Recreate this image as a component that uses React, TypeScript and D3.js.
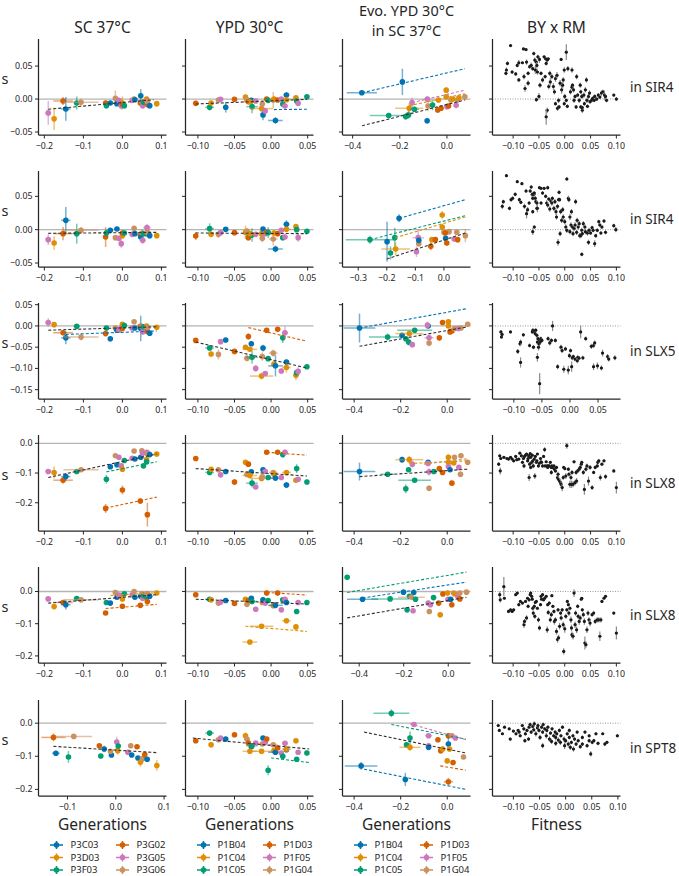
import * as d3 from "d3";

// strain colours (seaborn colorblind)
const palette = ["#0173b2", "#de8f05", "#029e73", "#d55e00", "#cc78bc", "#ca9161"];
const colTitles = [["SC 37°C"], ["YPD 30°C"], ["Evo. YPD 30°C", "in SC 37°C"], ["BY x RM"]];
const colXLabels = ["Generations", "Generations", "Generations", "Fitness"];
const rowLabels = ["in SIR4", "in SIR4", "in SLX5", "in SLX8", "in SLX8", "in SPT8"];
const legendP3 = ["P3C03", "P3D03", "P3F03", "P3G02", "P3G05", "P3G06"];
const legendP1 = ["P1B04", "P1C04", "P1C05", "P1D03", "P1F05", "P1G04"];
const legendSets = [legendP3, legendP1, legendP1];

const yDomains = [[-0.0545, 0.091], [-0.056, 0.088], [-0.172, 0.054], [-0.295, 0.028], [-0.222, 0.076], [-0.22, 0.07]];
const yTicks = [[-0.05, 0, 0.05], [-0.05, 0, 0.05], [-0.15, -0.1, -0.05, 0, 0.05], [-0.2, -0.1, 0], [-0.2, -0.1, 0], [-0.2, -0.1, 0]];
const yFormats = [".2f", ".2f", ".2f", ".1f", ".1f", ".1f"];
const xFormats = [".1f", ".2f", ".1f", ".2f"];

// [row][col]
const xDomains = [
  [[-0.215, 0.113], [-0.117, 0.058], [-0.443, 0.1], [-0.14, 0.108]],
  [[-0.215, 0.113], [-0.117, 0.058], [-0.355, 0.093], [-0.14, 0.108]],
  [[-0.215, 0.113], [-0.117, 0.058], [-0.45, 0.1], [-0.138, 0.09]],
  [[-0.215, 0.113], [-0.117, 0.058], [-0.45, 0.1], [-0.14, 0.108]],
  [[-0.215, 0.113], [-0.117, 0.058], [-0.475, 0.1], [-0.14, 0.108]],
  [[-0.16, 0.105], [-0.117, 0.058], [-0.45, 0.1], [-0.14, 0.105]],
];
const tC1 = [-0.2, -0.1, 0, 0.1], tC2 = [-0.1, -0.05, 0, 0.05], tC3 = [-0.4, -0.2, 0], tC4 = [-0.1, -0.05, 0, 0.05, 0.1];
const xTicks = [
  [tC1, tC2, tC3, tC4],
  [tC1, tC2, [-0.3, -0.2, -0.1, 0], tC4],
  [tC1, tC2, tC3, [-0.1, -0.05, 0, 0.05]],
  [tC1, tC2, tC3, tC4],
  [tC1, tC2, tC3, tC4],
  [[-0.1, 0, 0.1], tC2, tC3, tC4],
];

// SC 37°C lineages: [colour, x, xerr]
const linC1 = [
  [4, -0.19, 0.008], [1, -0.175, 0.005], [3, -0.152, 0.025], [0, -0.145, 0.012], [2, -0.117, 0.008], [5, -0.106, 0.045],
  [3, -0.043, 0.005], [2, -0.041, 0.004], [0, -0.031, 0.004], [5, -0.018, 0.004], [0, -0.014, 0.004], [4, -0.009, 0.006],
  [4, -0.003, 0.004], [1, 0.0, 0.005], [3, 0.0, 0.004], [2, 0.005, 0.004], [4, 0.025, 0.005], [5, 0.03, 0.004],
  [0, 0.032, 0.004], [3, 0.046, 0.004], [0, 0.047, 0.004], [5, 0.05, 0.004], [4, 0.052, 0.008], [2, 0.054, 0.004],
  [1, 0.062, 0.006], [2, 0.062, 0.004], [4, 0.063, 0.01], [3, 0.064, 0.004], [5, 0.064, 0.004], [0, 0.07, 0.004], [1, 0.088, 0.004],
];
// s and its error per row (rows 1-5)
const sC1 = [
  [[-0.021, .018], [-0.03, .017], [-0.003, .006], [-0.015, .018], [-0.006, .01], [-0.005, .006], [-0.006, .004], [-0.01, .004], [-0.006, .003], [0.001, .012], [-0.007, .003], [-0.002, .004], [-0.01, .006], [-0.006, .01], [-0.008, .004], [-0.01, .004], [-0.002, .004], [0.0, .004], [-0.001, .003], [-0.006, .004], [0.005, .01], [-0.004, .004], [-0.01, .005], [-0.005, .004], [0.0, .004], [-0.005, .004], [-0.003, .005], [-0.008, .006], [-0.004, .004], [-0.01, .004], [-0.007, .004]],
  [[-0.015, .008], [-0.02, .01], [-0.006, .01], [0.014, .02], [-0.006, .015], [-0.001, .005], [-0.011, .015], [-0.005, .005], [-0.001, .003], [-0.012, .004], [0.001, .003], [-0.013, .004], [-0.021, .006], [-0.009, .004], [-0.005, .004], [-0.005, .004], [-0.007, .004], [0.002, .003], [-0.006, .003], [-0.008, .004], [-0.011, .004], [-0.005, .004], [-0.016, .005], [-0.006, .004], [-0.005, .004], [-0.006, .004], [0.003, .005], [-0.005, .004], [-0.004, .004], [-0.009, .004], [-0.009, .004]],
  [[0.008, .01], [0.003, .005], [-0.016, .006], [-0.028, .015], [-0.001, .003], [-0.026, .008], [-0.018, .006], [-0.005, .003], [-0.03, .006], [-0.005, .004], [-0.01, .003], [-0.01, .004], [-0.005, .004], [0.004, .004], [-0.006, .004], [0.001, .003], [-0.005, .004], [0.01, .004], [-0.005, .003], [-0.001, .004], [-0.006, .03], [-0.001, .004], [-0.014, .005], [-0.002, .004], [0.0, .004], [-0.004, .004], [-0.005, .005], [-0.013, .005], [-0.003, .004], [-0.017, .004], [-0.003, .004]],
  [[-0.095, .008], [-0.098, .02], [-0.124, .012], [-0.112, .012], [-0.095, .008], [-0.089, .006], [-0.219, .015], [-0.121, .015], [-0.079, .005], [-0.042, .005], [-0.072, .005], [-0.047, .006], [-0.076, .008], [-0.087, .008], [-0.157, .015], [-0.058, .005], [-0.05, .005], [-0.026, .005], [-0.053, .005], [-0.194, .01], [-0.047, .005], [-0.025, .005], [-0.033, .006], [-0.076, .006], [-0.055, .008], [-0.062, .006], [-0.03, .006], [-0.24, .04], [-0.035, .005], [-0.038, .005], [-0.036, .005]],
  [[-0.023, .006], [-0.047, .008], [-0.034, .005], [-0.041, .015], [-0.022, .006], [-0.026, .004], [-0.067, .006], [-0.034, .004], [-0.036, .004], [-0.003, .006], [-0.018, .004], [-0.011, .004], [-0.013, .004], [-0.023, .005], [-0.046, .005], [-0.007, .004], [-0.01, .004], [0.0, .004], [-0.018, .004], [-0.043, .004], [-0.015, .004], [-0.007, .004], [-0.021, .005], [-0.012, .004], [-0.013, .004], [-0.017, .004], [-0.007, .004], [-0.031, .005], [-0.007, .004], [-0.015, .004], [-0.005, .004]],
];
// SC 37°C in SPT8: [colour, x, s, xerr, serr]
const c1Spt8 = [
  [3, -0.129, -0.043, 0.025, 0.012], [5, -0.087, -0.04, 0.038, 0.004], [0, -0.124, -0.091, 0.008, 0.008], [2, -0.098, -0.102, 0.004, 0.018],
  [3, -0.034, -0.068, 0.004, 0.005], [2, -0.031, -0.099, 0.004, 0.005], [0, -0.024, -0.078, 0.006, 0.01], [0, -0.009, -0.096, 0.004, 0.005],
  [5, -0.011, -0.085, 0.004, 0.005], [1, 0.004, -0.083, 0.005, 0.012], [4, 0.002, -0.057, 0.004, 0.016], [2, 0.005, -0.069, 0.004, 0.008],
  [4, 0.025, -0.088, 0.006, 0.006], [5, 0.031, -0.068, 0.004, 0.004], [0, 0.033, -0.096, 0.004, 0.006], [3, 0.044, -0.071, 0.004, 0.004],
  [0, 0.046, -0.105, 0.005, 0.006], [1, 0.051, -0.118, 0.004, 0.014], [5, 0.055, -0.108, 0.004, 0.006], [3, 0.06, -0.095, 0.004, 0.01],
  [0, 0.065, -0.109, 0.005, 0.006], [1, 0.085, -0.128, 0.004, 0.016],
];

// YPD 30°C lineages: [colour, x, xerr]
const linC2 = [
  [3, -0.103, 0.002], [2, -0.084, 0.006], [1, -0.082, 0.002], [5, -0.072, 0.003], [4, -0.069, 0.002], [0, -0.062, 0.002],
  [3, -0.05, 0.003], [1, -0.035, 0.003], [5, -0.033, 0.004], [3, -0.031, 0.002], [0, -0.027, 0.003], [2, -0.026, 0.008],
  [4, -0.021, 0.003], [1, -0.013, 0.016], [5, -0.012, 0.003], [0, -0.011, 0.003], [4, -0.008, 0.003], [3, -0.006, 0.003],
  [2, -0.004, 0.003], [5, 0.003, 0.006], [1, 0.004, 0.003], [0, 0.006, 0.01], [3, 0.009, 0.003], [4, 0.014, 0.003],
  [2, 0.016, 0.003], [4, 0.019, 0.004], [0, 0.021, 0.004], [1, 0.021, 0.006], [1, 0.034, 0.003], [2, 0.035, 0.003],
  [4, 0.037, 0.003], [2, 0.049, 0.002], [1, -0.029, 0.01],
];
const sC2 = [
  [[-0.0065, .004], [-0.0125, .005], [-0.006, .003], [-0.0015, .003], [-0.0005, .003], [-0.0125, .008], [-0.0005, .003], [0.003, .003], [-0.001, .004], [-0.004, .004], [-0.002, .003], [-0.0115, .01], [-0.003, .004], [-0.0145, .005], [-0.0075, .004], [-0.024, .008], [-0.018, .005], [0.0, .003], [-0.002, .003], [-0.0015, .012], [0.0, .004], [-0.0325, .005], [-0.0015, .003], [0.0, .003], [-0.0075, .005], [-0.0105, .004], [0.006, .004], [-0.001, .003], [0.002, .003], [-0.003, .003], [-0.0065, .004], [0.0035, .002], [-0.004, .004]],
  [[-0.0095, .006], [0.0015, .008], [-0.007, .004], [-0.007, .005], [-0.0045, .004], [0.0005, .003], [-0.0045, .003], [-0.004, .01], [-0.002, .004], [-0.012, .004], [-0.008, .003], [-0.008, .01], [-0.007, .004], [-0.006, .005], [-0.013, .006], [0.001, .003], [-0.006, .004], [-0.0035, .003], [-0.0045, .008], [-0.014, .01], [-0.005, .004], [-0.029, .005], [-0.006, .004], [-0.001, .003], [-0.012, .004], [-0.011, .004], [0.008, .006], [0.0005, .004], [0.0045, .003], [0.0, .003], [-0.012, .006], [-0.0025, .003], [-0.006, .004]],
  [[-0.034, .004], [-0.052, .006], [-0.066, .005], [-0.067, .012], [-0.037, .004], [-0.033, .004], [-0.06, .006], [-0.05, .006], [-0.076, .008], [-0.025, .008], [-0.042, .005], [-0.074, .015], [-0.1, .008], [-0.118, .008], [-0.072, .01], [-0.052, .008], [-0.112, .005], [-0.01, .003], [-0.077, .004], [-0.064, .008], [-0.09, .01], [-0.094, .025], [-0.008, .004], [-0.106, .006], [-0.028, .012], [-0.016, .015], [-0.085, .006], [-0.098, .012], [-0.116, .012], [-0.11, .006], [-0.107, .01], [-0.096, .004], [-0.055, .005]],
  [[-0.051, .005], [-0.098, .006], [-0.087, .006], [-0.089, .008], [-0.106, .008], [-0.095, .005], [-0.13, .01], [-0.064, .008], [-0.105, .008], [-0.07, .008], [-0.096, .006], [-0.134, .015], [-0.147, .008], [-0.118, .008], [-0.113, .01], [-0.089, .005], [-0.095, .008], [-0.03, .004], [-0.115, .008], [-0.098, .006], [-0.104, .008], [-0.117, .008], [-0.03, .004], [-0.115, .008], [-0.038, .01], [-0.03, .01], [-0.14, .01], [-0.098, .008], [-0.124, .006], [-0.085, .015], [-0.121, .006], [-0.13, .008], [-0.108, .006]],
  [[-0.01, .004], [-0.024, .005], [-0.026, .004], [-0.036, .004], [-0.033, .004], [-0.028, .004], [-0.037, .005], [-0.024, .004], [-0.04, .006], [-0.028, .004], [-0.021, .004], [-0.031, .005], [-0.055, .006], [-0.108, .005], [-0.034, .004], [-0.026, .004], [-0.036, .004], [-0.005, .003], [-0.028, .004], [-0.044, .004], [-0.041, .004], [-0.043, .004], [-0.005, .004], [-0.057, .004], [-0.026, .004], [-0.024, .008], [-0.034, .004], [-0.091, .004], [-0.11, .008], [-0.062, .004], [-0.034, .004], [-0.034, .004], [-0.157, .004]],
  [[-0.053, .006], [-0.03, .003], [-0.065, .008], [-0.05, .004], [-0.045, .004], [-0.048, .004], [-0.035, .004], [-0.038, .01], [-0.048, .008], [-0.06, .005], [-0.071, .005], [-0.068, .008], [-0.06, .005], [-0.085, .008], [-0.063, .006], [-0.045, .006], [-0.058, .006], [-0.048, .004], [-0.142, .015], [-0.065, .005], [-0.083, .006], [-0.088, .005], [-0.075, .006], [-0.09, .005], [-0.1, .006], [-0.061, .006], [-0.08, .006], [-0.078, .006], [-0.053, .004], [-0.109, .005], [-0.088, .004], [-0.09, .008], [-0.085, .005]],
];

// Evo. YPD 30°C in SC 37°C, per row: [colour, x, s, xerr, serr]
const c3Rows = [
  [[0, -0.361, 0.0095, 0.064, 0.003], [0, -0.189, 0.026, 0.004, 0.02], [2, -0.247, -0.025, 0.08, 0.004], [2, -0.175, -0.0265, 0.01, 0.005], [2, -0.163, -0.024, 0.005, 0.006], [1, -0.16, -0.014, 0.06, 0.008], [4, -0.148, -0.0055, 0.006, 0.008], [2, -0.138, -0.0155, 0.02, 0.004], [0, -0.084, -0.033, 0.004, 0.004], [4, -0.083, 0.0, 0.015, 0.004], [5, -0.08, -0.0105, 0.006, 0.008], [2, -0.061, -0.009, 0.005, 0.008], [1, -0.036, -0.0015, 0.005, 0.004], [3, -0.039, -0.0165, 0.005, 0.004], [3, -0.025, -0.014, 0.005, 0.004], [1, -0.003, 0.0135, 0.004, 0.004], [1, -0.003, 0.0035, 0.004, 0.004], [4, 0.0, -0.0115, 0.005, 0.004], [3, 0.007, -0.0105, 0.004, 0.004], [5, 0.017, -0.0015, 0.006, 0.006], [1, 0.025, 0.0, 0.005, 0.004], [4, 0.039, -0.0095, 0.005, 0.005], [5, 0.044, -0.0015, 0.005, 0.004], [1, 0.051, 0.002, 0.004, 0.004], [5, 0.076, 0.0035, 0.004, 0.004]],
  [[2, -0.259, -0.015, 0.085, 0.006], [0, -0.199, -0.018, 0.004, 0.03], [2, -0.187, -0.035, 0.006, 0.01], [2, -0.172, -0.012, 0.004, 0.015], [1, -0.169, -0.029, 0.05, 0.01], [0, -0.157, 0.017, 0.006, 0.006], [4, -0.096, -0.033, 0.004, 0.008], [4, -0.09, -0.012, 0.02, 0.012], [5, -0.088, -0.021, 0.005, 0.004], [0, -0.088, -0.016, 0.004, 0.004], [3, -0.046, -0.025, 0.005, 0.006], [1, -0.042, -0.015, 0.01, 0.004], [3, -0.03, -0.015, 0.005, 0.004], [1, -0.006, 0.022, 0.004, 0.006], [1, -0.006, 0.004, 0.004, 0.005], [5, 0.0, -0.004, 0.004, 0.005], [0, 0.006, -0.013, 0.004, 0.004], [3, 0.01, -0.02, 0.005, 0.004], [5, 0.018, -0.003, 0.006, 0.004], [3, 0.005, -0.005, 0.004, 0.004], [4, 0.036, -0.014, 0.004, 0.004], [5, 0.045, -0.004, 0.004, 0.004], [3, 0.048, -0.015, 0.004, 0.004], [5, 0.075, -0.009, 0.004, 0.01]],
  [[0, -0.377, -0.005, 0.068, 0.034], [2, -0.256, -0.026, 0.08, 0.008], [0, -0.194, -0.022, 0.006, 0.005], [2, -0.178, -0.03, 0.006, 0.005], [2, -0.166, -0.038, 0.006, 0.008], [1, -0.163, -0.018, 0.06, 0.006], [4, -0.15, -0.044, 0.005, 0.005], [2, -0.14, -0.01, 0.075, 0.004], [0, -0.082, 0.0, 0.004, 0.004], [4, -0.085, 0.002, 0.004, 0.008], [4, -0.078, -0.028, 0.02, 0.005], [5, -0.078, -0.04, 0.004, 0.008], [3, -0.034, -0.028, 0.005, 0.006], [3, -0.02, 0.008, 0.004, 0.004], [1, 0.005, 0.01, 0.004, 0.006], [1, 0.005, 0.0, 0.004, 0.004], [3, 0.012, -0.014, 0.005, 0.005], [3, 0.02, -0.012, 0.004, 0.004], [5, 0.031, -0.006, 0.005, 0.004], [4, 0.047, -0.006, 0.004, 0.004], [5, 0.059, -0.005, 0.004, 0.004], [5, 0.088, 0.004, 0.004, 0.004]],
  [[0, -0.377, -0.095, 0.068, 0.03], [2, -0.256, -0.104, 0.03, 0.004], [0, -0.194, -0.055, 0.006, 0.01], [1, -0.163, -0.055, 0.06, 0.012], [4, -0.15, -0.07, 0.005, 0.012], [2, -0.166, -0.089, 0.006, 0.008], [2, -0.178, -0.153, 0.006, 0.015], [2, -0.14, -0.124, 0.07, 0.005], [0, -0.082, -0.064, 0.004, 0.008], [4, -0.082, -0.068, 0.004, 0.008], [4, -0.078, -0.096, 0.006, 0.012], [5, -0.078, -0.151, 0.004, 0.01], [2, -0.057, -0.095, 0.004, 0.004], [3, -0.034, -0.085, 0.005, 0.006], [3, -0.02, -0.098, 0.005, 0.006], [1, 0.005, -0.047, 0.004, 0.01], [1, 0.005, -0.064, 0.004, 0.012], [4, 0.005, -0.078, 0.004, 0.004], [0, 0.012, -0.089, 0.004, 0.004], [3, 0.02, -0.134, 0.004, 0.008], [5, 0.031, -0.047, 0.005, 0.004], [1, 0.028, -0.066, 0.005, 0.004], [4, 0.05, -0.081, 0.004, 0.004], [5, 0.059, -0.042, 0.004, 0.004], [5, 0.057, -0.104, 0.004, 0.01], [5, 0.088, -0.064, 0.004, 0.006]],
  [[2, -0.454, 0.044, 0.004, 0.008], [0, -0.385, -0.024, 0.07, 0.004], [2, -0.261, -0.023, 0.085, 0.004], [0, -0.201, -0.002, 0.006, 0.004], [2, -0.174, -0.015, 0.006, 0.004], [0, -0.155, -0.003, 0.004, 0.008], [5, -0.165, -0.018, 0.06, 0.004], [2, -0.147, -0.024, 0.005, 0.004], [2, -0.185, -0.057, 0.005, 0.004], [4, -0.158, -0.06, 0.005, 0.004], [2, -0.066, -0.019, 0.004, 0.004], [4, -0.09, -0.036, 0.01, 0.008], [4, -0.08, -0.041, 0.005, 0.004], [5, -0.085, -0.062, 0.004, 0.004], [1, -0.036, -0.072, 0.006, 0.008], [3, -0.043, -0.036, 0.004, 0.004], [3, -0.024, -0.008, 0.004, 0.004], [1, -0.003, -0.005, 0.004, 0.006], [4, -0.001, -0.024, 0.004, 0.004], [0, 0.011, -0.024, 0.004, 0.004], [3, 0.016, -0.041, 0.004, 0.004], [5, 0.024, -0.005, 0.004, 0.004], [1, 0.03, -0.008, 0.004, 0.004], [4, 0.043, -0.015, 0.004, 0.004], [3, 0.052, -0.023, 0.004, 0.004], [5, 0.052, -0.005, 0.004, 0.004], [5, 0.082, -0.002, 0.004, 0.004]],
  [[0, -0.37, -0.129, 0.07, 0.012], [2, -0.24, 0.03, 0.077, 0.012], [0, -0.18, -0.17, 0.004, 0.02], [4, -0.143, -0.004, 0.004, 0.006], [2, -0.16, -0.045, 0.004, 0.02], [2, -0.175, -0.065, 0.004, 0.006], [1, -0.16, -0.073, 0.045, 0.01], [4, -0.08, -0.038, 0.015, 0.006], [4, -0.08, -0.068, 0.004, 0.004], [0, -0.08, -0.073, 0.004, 0.006], [3, -0.04, -0.05, 0.004, 0.004], [3, -0.028, -0.083, 0.004, 0.008], [1, -0.02, -0.078, 0.006, 0.008], [3, 0.005, -0.038, 0.004, 0.004], [0, 0.005, -0.063, 0.004, 0.02], [1, 0.01, -0.078, 0.004, 0.008], [1, 0.0, -0.114, 0.004, 0.008], [3, 0.005, -0.177, 0.02, 0.012], [5, 0.02, -0.038, 0.004, 0.004], [4, 0.035, -0.045, 0.004, 0.004], [3, 0.025, -0.119, 0.004, 0.006], [5, 0.07, -0.102, 0.004, 0.008]],
];

// dashed fits [colour (-1 = all), x0, s0, x1, s1] per row, per col (cols 1-3)
const fits = [
  [[[-1, -0.19, -0.0155, 0.08, -0.001]], [[-1, -0.103, -0.0075, 0.049, -0.0005], [0, 0.004, -0.016, 0.049, -0.0155]], [[0, -0.36, 0.0095, 0.076, 0.046], [4, -0.148, -0.0055, 0.076, 0.0135], [1, -0.16, -0.01, 0.076, 0.008], [-1, -0.36, -0.0405, 0.076, -0.0015]]],
  [[[-1, -0.19, -0.0055, 0.088, -0.004]], [[-1, -0.103, -0.005, 0.049, -0.006]], [[0, -0.157, 0.017, 0.075, 0.045], [2, -0.259, -0.015, 0.075, 0.021], [1, -0.17, -0.012, 0.075, 0.019], [-1, -0.2, -0.044, 0.075, -0.005]]],
  [[[-1, -0.19, -0.01, 0.088, -0.002], [0, -0.145, -0.02, 0.088, -0.012]], [[-1, -0.103, -0.038, 0.049, -0.099], [3, -0.031, -0.004, 0.049, -0.036]], [[0, -0.377, -0.005, 0.088, 0.041], [-1, -0.377, -0.048, 0.088, -0.002]]],
  [[[-1, -0.19, -0.115, 0.088, -0.036], [2, -0.041, -0.096, 0.088, -0.062], [3, -0.043, -0.218, 0.088, -0.181]], [[-1, -0.103, -0.085, 0.049, -0.11], [3, -0.006, -0.03, 0.049, -0.04]], [[-1, -0.377, -0.112, 0.088, -0.087], [1, -0.163, -0.068, 0.088, -0.059], [5, -0.1, -0.07, 0.088, -0.052]]],
  [[[-1, -0.19, -0.036, 0.088, -0.01], [3, -0.043, -0.053, 0.088, -0.04], [1, -0.03, -0.012, 0.088, -0.004]], [[-1, -0.103, -0.024, 0.049, -0.039], [3, -0.006, -0.003, 0.049, -0.011], [1, -0.035, -0.108, 0.049, -0.124]], [[2, -0.454, -0.003, 0.082, 0.06], [0, -0.385, -0.02, 0.082, 0.029], [-1, -0.454, -0.082, 0.082, -0.018]]],
  [[[-1, -0.129, -0.07, 0.085, -0.089]], [[-1, -0.107, -0.045, 0.052, -0.078], [2, 0.0, -0.105, 0.052, -0.119]], [[-1, -0.357, -0.027, 0.08, -0.09], [2, -0.24, -0.004, 0.08, -0.048], [4, -0.16, -0.002, 0.08, -0.05], [0, -0.357, -0.139, 0.08, -0.2], [3, -0.03, -0.129, 0.08, -0.142]]],
];

// BY x RM segregants per row: [fitness, s, serr]
const byrm = [
  [[-0.105, 0.081, .002], [-0.111, 0.054, .003], [-0.113, 0.044, .004], [-0.114, 0.039, .003], [-0.092, 0.051, .003], [-0.095, 0.038, .003], [-0.089, 0.055, .004], [-0.082, 0.055, .002], [-0.08, 0.076, .002], [-0.075, 0.075, .002], [-0.079, 0.034, .004], [-0.077, 0.016, .005], [-0.074, 0.056, .004], [-0.071, 0.039, .003], [-0.068, 0.049, .003], [-0.065, 0.051, .004], [-0.062, 0.046, .003], [-0.06, 0.069, .003], [-0.058, 0.059, .004], [-0.057, 0.044, .006], [-0.055, 0.056, .004], [-0.054, 0.051, .005], [-0.053, 0.041, .004], [-0.052, 0.064, .003], [-0.05, 0.004, .005], [-0.049, 0.06, .005], [-0.048, 0.021, .004], [-0.046, 0.039, .003], [-0.043, 0.029, .004], [-0.04, 0.064, .002], [-0.038, 0.034, .003], [-0.037, 0.061, .002], [-0.036, 0.054, .003], [-0.034, 0.059, .002], [-0.032, 0.061, .002], [-0.031, 0.019, .004], [-0.029, 0.039, .004], [-0.028, 0.026, .006], [-0.025, 0.034, .004], [-0.022, 0.019, .005], [-0.02, 0.011, .004], [-0.018, 0.031, .005], [-0.015, 0.036, .005], [-0.014, -0.014, .004], [-0.012, -0.002, .004], [-0.009, 0.024, .005], [-0.007, 0.06, .002], [-0.006, 0.014, .006], [-0.004, 0.021, .005], [-0.003, 0.029, .004], [-0.001, 0.044, .004], [0.0, 0.004, .004], [0.003, -0.002, .003], [0.006, 0.046, .004], [0.003, 0.071, .012], [0.011, 0.011, .004], [0.014, 0.044, .004], [0.014, 0.018, .004], [0.015, 0.021, .003], [0.017, 0.014, .004], [0.018, -0.002, .004], [0.02, 0.004, .003], [0.022, -0.012, .003], [0.023, 0.034, .004], [0.025, 0.006, .003], [0.028, -0.002, .004], [0.03, 0.021, .004], [0.031, 0.011, .003], [0.033, 0.004, .004], [0.034, -0.017, .004], [0.037, 0.006, .004], [0.038, -0.007, .003], [0.04, 0.014, .004], [0.042, 0.029, .004], [0.043, -0.002, .004], [0.044, -0.011, .003], [0.046, 0.004, .004], [0.048, 0.009, .004], [0.049, -0.004, .003], [0.052, -0.002, .003], [0.054, 0.001, .003], [0.057, -0.002, .003], [0.058, 0.004, .003], [0.062, 0.0, .003], [0.065, 0.006, .003], [0.068, 0.003, .003], [0.071, 0.009, .004], [0.074, 0.011, .003], [0.077, 0.006, .007], [0.079, 0.004, .004], [0.081, -0.002, .003], [0.095, 0.006, .002], [0.1, 0.0, .003], [-0.034, -0.017, .004], [-0.036, -0.027, .012], [-0.055, -0.001, .003], [-0.001, -0.007, .003], [0.005, -0.011, .003], [-0.011, -0.012, .003], [-0.018, -0.007, .003], [0.031, -0.012, .003], [0.034, -0.013, .003], [-0.071, 0.024, .004], [-0.089, 0.029, .003], [-0.102, 0.041, .003]],
  [[-0.113, 0.081, .002], [-0.092, 0.072, .002], [-0.083, 0.069, .002], [-0.096, 0.053, .003], [-0.104, 0.045, .003], [-0.121, 0.035, .004], [-0.119, 0.042, .003], [-0.107, 0.032, .003], [-0.101, 0.047, .003], [-0.088, 0.045, .003], [-0.085, 0.041, .003], [-0.078, 0.035, .004], [-0.074, 0.024, .007], [-0.072, 0.03, .004], [-0.069, 0.04, .003], [-0.067, 0.058, .003], [-0.065, 0.064, .003], [-0.063, 0.053, .004], [-0.062, 0.047, .003], [-0.06, 0.053, .004], [-0.059, 0.055, .003], [-0.057, 0.047, .004], [-0.056, 0.042, .003], [-0.054, 0.04, .004], [-0.053, 0.032, .006], [-0.049, 0.063, .002], [-0.046, 0.062, .002], [-0.043, 0.055, .003], [-0.04, 0.062, .002], [-0.037, 0.05, .003], [-0.035, 0.04, .004], [-0.033, 0.037, .004], [-0.031, 0.046, .003], [-0.029, 0.031, .004], [-0.027, 0.043, .003], [-0.025, 0.04, .004], [-0.024, 0.047, .003], [-0.021, 0.032, .004], [-0.019, 0.042, .004], [-0.017, 0.027, .005], [-0.016, 0.019, .004], [-0.014, 0.035, .004], [-0.012, 0.045, .003], [-0.011, 0.056, .003], [-0.01, 0.045, .003], [-0.008, 0.027, .004], [-0.006, 0.014, .004], [-0.004, 0.03, .004], [-0.003, 0.019, .004], [0.0, 0.012, .004], [0.002, 0.004, .004], [0.004, -0.001, .004], [0.004, 0.076, .003], [0.007, 0.047, .004], [0.008, 0.045, .004], [0.01, -0.003, .004], [0.01, 0.019, .005], [0.012, 0.007, .004], [0.013, 0.027, .004], [0.015, 0.004, .004], [0.016, -0.006, .004], [0.018, 0.002, .004], [0.02, 0.007, .004], [0.021, 0.042, .004], [0.023, -0.004, .004], [0.024, 0.014, .004], [0.026, 0.004, .004], [0.028, 0.009, .004], [0.029, -0.009, .004], [0.031, -0.009, .004], [0.033, -0.001, .004], [0.034, -0.006, .004], [0.036, 0.009, .004], [0.039, 0.004, .004], [0.04, -0.003, .004], [0.044, -0.005, .004], [0.046, -0.019, .004], [0.047, -0.001, .004], [0.05, -0.005, .003], [0.053, 0.003, .003], [0.055, -0.001, .003], [0.058, -0.021, .005], [0.06, -0.009, .003], [0.063, -0.001, .003], [0.066, 0.012, .003], [0.068, 0.007, .003], [0.07, -0.005, .003], [0.072, 0.004, .003], [0.076, 0.013, .003], [0.079, -0.004, .003], [0.095, 0.006, .003], [0.099, 0.0, .004], [-0.062, -0.003, .005], [-0.059, 0.004, .003], [-0.013, -0.019, .005], [-0.009, -0.006, .004], [0.033, -0.037, .003], [-0.062, 0.027, .003], [-0.075, 0.058, .003], [-0.033, 0.063, .003], [-0.046, 0.04, .003], [-0.054, 0.032, .003]],
  [[-0.123, -0.014, .004], [-0.122, -0.026, .004], [-0.121, -0.02, .004], [-0.106, -0.014, .003], [-0.093, -0.06, .006], [-0.089, -0.042, .006], [-0.088, -0.038, .006], [-0.088, -0.086, .012], [-0.083, -0.021, .004], [-0.067, -0.014, .004], [-0.066, -0.01, .004], [-0.064, -0.012, .004], [-0.062, -0.018, .005], [-0.061, -0.01, .004], [-0.059, -0.022, .005], [-0.058, -0.038, .006], [-0.057, -0.03, .005], [-0.056, -0.05, .008], [-0.055, -0.042, .006], [-0.054, -0.034, .005], [-0.053, -0.038, .006], [-0.052, -0.03, .005], [-0.05, -0.034, .005], [-0.058, -0.074, .01], [-0.054, -0.136, .025], [-0.039, -0.03, .005], [-0.036, -0.04, .006], [-0.033, -0.034, .005], [-0.031, 0.0, .012], [-0.026, -0.034, .005], [-0.022, -0.096, .006], [-0.016, -0.05, .006], [-0.014, -0.058, .006], [-0.011, -0.102, .008], [-0.008, -0.054, .005], [-0.003, -0.104, .01], [-0.001, -0.07, .006], [0.001, -0.058, .005], [0.003, -0.096, .012], [0.004, -0.075, .006], [0.006, -0.072, .005], [0.009, -0.078, .005], [0.014, -0.074, .005], [0.016, -0.076, .005], [0.019, -0.014, .015], [0.023, -0.075, .005], [0.028, -0.03, .005], [0.038, -0.048, .006], [0.042, -0.046, .006], [0.044, -0.04, .006], [0.042, -0.096, .008], [0.049, -0.094, .008], [0.058, -0.064, .008], [0.067, -0.072, .006], [0.069, -0.078, .006], [0.08, -0.075, .006], [0.056, -0.099, .006], [0.013, -0.082, .006], [-0.065, -0.05, .005], [-0.072, -0.046, .005]],
  [[-0.128, -0.07, .006], [-0.126, -0.042, .004], [-0.125, -0.093, .012], [-0.124, -0.051, .004], [-0.118, -0.047, .004], [-0.112, -0.051, .004], [-0.109, -0.053, .004], [-0.105, -0.047, .004], [-0.102, -0.053, .004], [-0.099, -0.059, .005], [-0.095, -0.044, .004], [-0.093, -0.055, .005], [-0.089, -0.053, .004], [-0.087, -0.033, .004], [-0.084, -0.042, .005], [-0.082, -0.064, .006], [-0.08, -0.051, .004], [-0.079, -0.076, .008], [-0.078, -0.044, .004], [-0.076, -0.04, .004], [-0.074, -0.036, .004], [-0.072, -0.059, .005], [-0.071, -0.051, .004], [-0.07, -0.042, .004], [-0.069, -0.115, .012], [-0.068, -0.07, .008], [-0.067, -0.035, .004], [-0.066, -0.047, .004], [-0.064, -0.064, .006], [-0.063, -0.04, .004], [-0.062, -0.059, .005], [-0.061, -0.076, .008], [-0.059, -0.053, .005], [-0.058, -0.11, .01], [-0.057, -0.044, .004], [-0.055, -0.064, .005], [-0.054, -0.059, .005], [-0.053, -0.036, .004], [-0.051, -0.076, .006], [-0.049, -0.067, .005], [-0.047, -0.051, .004], [-0.046, -0.062, .005], [-0.045, -0.064, .005], [-0.043, -0.076, .006], [-0.041, -0.044, .004], [-0.039, -0.021, .008], [-0.038, -0.076, .005], [-0.036, -0.062, .004], [-0.034, -0.076, .005], [-0.033, -0.081, .005], [-0.032, -0.076, .005], [-0.03, -0.076, .004], [-0.028, -0.064, .004], [-0.026, -0.081, .005], [-0.025, -0.076, .004], [-0.023, -0.081, .005], [-0.021, -0.076, .004], [-0.02, -0.087, .006], [-0.018, -0.093, .006], [-0.016, -0.081, .005], [-0.014, -0.115, .01], [-0.013, -0.104, .008], [-0.012, -0.121, .01], [-0.01, -0.127, .01], [-0.008, -0.132, .01], [-0.007, -0.138, .01], [-0.005, -0.149, .012], [-0.003, -0.115, .008], [-0.002, -0.081, .005], [0.0, -0.085, .006], [0.002, -0.11, .01], [0.004, -0.008, .01], [0.007, -0.087, .006], [0.008, -0.104, .008], [0.01, -0.138, .012], [0.012, -0.115, .01], [0.013, -0.138, .012], [0.014, -0.098, .008], [0.016, -0.138, .01], [0.018, -0.062, .006], [0.02, -0.132, .01], [0.022, -0.098, .008], [0.023, -0.127, .01], [0.025, -0.093, .006], [0.028, -0.087, .008], [0.03, -0.081, .006], [0.032, -0.07, .005], [0.033, -0.064, .005], [0.036, -0.098, .008], [0.038, -0.155, .018], [0.041, -0.087, .008], [0.043, -0.076, .008], [0.046, -0.127, .015], [0.049, -0.081, .008], [0.053, -0.149, .008], [0.056, -0.098, .006], [0.059, -0.081, .006], [0.063, -0.076, .006], [0.064, -0.064, .006], [0.066, -0.059, .006], [0.069, -0.115, .01], [0.072, -0.07, .005], [0.076, -0.059, .005], [0.079, -0.112, .008], [0.095, -0.093, .006], [0.1, -0.149, .02], [-0.066, -0.081, .006], [-0.026, -0.098, .008]],
  [[-0.126, -0.01, .01], [-0.125, -0.026, .008], [-0.118, 0.015, .03], [-0.117, -0.021, .004], [-0.109, -0.062, .005], [-0.105, -0.057, .004], [-0.102, -0.062, .005], [-0.099, -0.057, .004], [-0.095, -0.01, .004], [-0.092, -0.005, .004], [-0.089, -0.041, .005], [-0.086, -0.031, .004], [-0.082, -0.036, .004], [-0.079, -0.103, .01], [-0.078, -0.093, .008], [-0.076, -0.031, .004], [-0.074, -0.082, .008], [-0.072, -0.021, .004], [-0.071, -0.046, .006], [-0.069, -0.026, .004], [-0.067, -0.01, .004], [-0.066, -0.005, .004], [-0.064, -0.015, .004], [-0.063, -0.024, .004], [-0.062, -0.052, .006], [-0.061, -0.067, .008], [-0.059, -0.046, .006], [-0.058, -0.077, .008], [-0.057, -0.034, .004], [-0.055, -0.031, .004], [-0.053, -0.052, .005], [-0.051, -0.088, .008], [-0.049, -0.113, .008], [-0.047, -0.041, .005], [-0.046, -0.015, .004], [-0.045, -0.024, .004], [-0.043, -0.01, .004], [-0.041, -0.026, .004], [-0.039, -0.021, .004], [-0.036, -0.015, .004], [-0.034, -0.119, .01], [-0.033, -0.041, .005], [-0.032, -0.065, .008], [-0.03, -0.036, .005], [-0.028, -0.088, .008], [-0.026, -0.072, .008], [-0.025, -0.013, .004], [-0.023, -0.046, .005], [-0.021, -0.062, .006], [-0.02, -0.093, .01], [-0.018, -0.088, .008], [-0.016, -0.124, .01], [-0.014, -0.149, .01], [-0.013, -0.057, .006], [-0.012, -0.144, .01], [-0.01, -0.108, .01], [-0.008, -0.067, .006], [-0.007, -0.082, .008], [-0.005, -0.057, .006], [-0.003, -0.103, .01], [-0.002, -0.186, .01], [0.0, -0.116, .012], [0.002, -0.077, .008], [0.004, -0.057, .006], [0.005, -0.031, .004], [0.007, -0.041, .005], [0.008, -0.067, .008], [0.01, -0.052, .006], [0.012, -0.088, .01], [0.013, -0.113, .01], [0.014, -0.134, .01], [0.016, -0.139, .01], [0.018, -0.005, .012], [0.02, -0.103, .01], [0.021, -0.067, .008], [0.023, -0.119, .01], [0.025, -0.046, .006], [0.026, -0.077, .008], [0.028, -0.093, .01], [0.03, -0.082, .008], [0.032, -0.024, .004], [0.033, -0.021, .004], [0.034, -0.057, .006], [0.036, -0.072, .008], [0.038, -0.093, .01], [0.039, -0.16, .02], [0.041, -0.165, .01], [0.043, -0.119, .01], [0.045, -0.067, .008], [0.047, -0.088, .008], [0.049, -0.098, .01], [0.053, -0.072, .006], [0.056, -0.067, .006], [0.059, -0.093, .008], [0.063, -0.088, .008], [0.066, -0.088, .008], [0.068, -0.139, .015], [0.07, -0.088, .008], [0.072, -0.031, .004], [0.076, -0.021, .004], [0.079, -0.015, .004], [0.095, -0.067, .004], [0.1, -0.129, .02]],
  [[-0.129, -0.007, .004], [-0.127, -0.022, .005], [-0.121, -0.032, .004], [-0.117, -0.012, .004], [-0.108, -0.017, .004], [-0.1, -0.024, .004], [-0.095, -0.032, .005], [-0.091, -0.022, .004], [-0.089, -0.027, .005], [-0.087, -0.038, .005], [-0.083, -0.007, .004], [-0.08, -0.017, .005], [-0.077, -0.032, .006], [-0.074, -0.022, .005], [-0.071, -0.048, .006], [-0.07, -0.012, .005], [-0.068, -0.004, .006], [-0.066, -0.027, .006], [-0.063, -0.01, .006], [-0.061, -0.02, .006], [-0.06, -0.002, .008], [-0.057, -0.032, .008], [-0.054, -0.014, .006], [-0.053, -0.007, .006], [-0.051, -0.022, .006], [-0.049, -0.043, .008], [-0.046, -0.012, .006], [-0.044, -0.027, .006], [-0.043, -0.004, .006], [-0.04, -0.017, .005], [-0.037, -0.038, .008], [-0.036, -0.022, .006], [-0.034, -0.012, .005], [-0.031, -0.048, .008], [-0.029, -0.03, .006], [-0.027, -0.055, .008], [-0.026, -0.017, .005], [-0.023, -0.038, .006], [-0.02, -0.027, .006], [-0.019, -0.043, .008], [-0.017, -0.032, .006], [-0.014, -0.051, .008], [-0.012, -0.022, .006], [-0.01, -0.058, .008], [-0.009, -0.038, .006], [-0.006, -0.012, .005], [-0.003, -0.048, .008], [-0.002, -0.068, .01], [0.0, -0.053, .008], [0.003, -0.032, .006], [0.005, -0.063, .008], [0.007, -0.043, .006], [0.009, -0.073, .008], [0.011, -0.058, .006], [0.014, -0.038, .006], [0.015, -0.078, .008], [0.017, -0.048, .006], [0.02, -0.063, .006], [0.022, -0.027, .005], [0.024, -0.053, .006], [0.028, -0.071, .006], [0.032, -0.043, .006], [0.037, -0.027, .005], [0.041, -0.068, .006], [0.045, -0.038, .005], [0.048, -0.093, .008], [0.051, -0.058, .006], [0.054, -0.053, .006], [0.058, -0.032, .005], [0.062, -0.061, .006], [0.071, -0.032, .004], [0.075, -0.063, .006], [0.079, -0.058, .005], [0.099, -0.038, .005], [-0.106, -0.048, .005], [-0.078, -0.053, .006], [-0.044, -0.068, .008], [-0.019, -0.061, .008], [0.007, -0.022, .006], [0.032, -0.063, .006], [0.045, -0.053, .006]],
];
const byrmFitnessErr = 0.0025;

const colLeft = [38.5, 185.5, 342.5, 492.5];
const rowTop = [39, 171, 303, 435, 567, 700];
const axW = 128, axH = 96;
const ink = "#262626";

function panelPoints(r, c) {
  if (c === 0) return r < 5 ? linC1.map((l, i) => [l[0], l[1], sC1[r][i][0], l[2], sC1[r][i][1]]) : c1Spt8;
  if (c === 1) return linC2.map((l, i) => [l[0], l[1], sC2[r][i][0], l[2], sC2[r][i][1]]);
  return c3Rows[r];
}

function Panel({ r, c }) {
  const left = colLeft[c], top = rowTop[r];
  const x = d3.scaleLinear(xDomains[r][c], [left, left + axW]);
  const y = d3.scaleLinear(yDomains[r], [top + axH, top]);
  const fx = d3.format(xFormats[c]);
  const fy = d3.format(yFormats[r]);
  const bottom = top + axH;
  return (
    <g>
      <line x1={left} x2={left + axW} y1={y(0)} y2={y(0)}
        stroke={c === 3 ? "#999" : "#b5b5b5"} strokeWidth={c === 3 ? 1 : 1.3}
        strokeDasharray={c === 3 ? "1,1.5" : undefined} />
      {c < 3 && panelPoints(r, c).map((p, i) => (
        <g key={i}>
          <g stroke={palette[p[0]]} strokeOpacity={0.55} strokeWidth={1.5}>
            <line x1={x(p[1] - p[3])} x2={x(p[1] + p[3])} y1={y(p[2])} y2={y(p[2])} />
            <line x1={x(p[1])} x2={x(p[1])} y1={y(p[2] - p[4])} y2={y(p[2] + p[4])} />
          </g>
          <circle cx={x(p[1])} cy={y(p[2])} r={2.8} fill={palette[p[0]]} />
        </g>
      ))}
      {c < 3 && fits[r][c].map((f, i) => (
        <line key={"f" + i} x1={x(f[1])} y1={y(f[2])} x2={x(f[3])} y2={y(f[4])}
          stroke={f[0] < 0 ? "#333" : palette[f[0]]} strokeWidth={1.1} strokeDasharray="3,2" />
      ))}
      {c === 3 && byrm[r].map((p, i) => (
        <g key={i}>
          <g stroke="#8a8a8a" strokeWidth={1.2}>
            <line x1={x(p[0])} x2={x(p[0])} y1={y(p[1] - p[2])} y2={y(p[1] + p[2])} />
            <line x1={x(p[0] - byrmFitnessErr)} x2={x(p[0] + byrmFitnessErr)} y1={y(p[1])} y2={y(p[1])} />
          </g>
          <circle cx={x(p[0])} cy={y(p[1])} r={1.6} fill="#1a1a1a" />
        </g>
      ))}
      <line x1={left} x2={left} y1={top} y2={bottom} stroke={ink} strokeWidth={1.25} />
      <line x1={left} x2={left + axW} y1={bottom} y2={bottom} stroke={ink} strokeWidth={1.25} />
      {xTicks[r][c].map((t) => (
        <g key={"x" + t}>
          <line x1={x(t)} x2={x(t)} y1={bottom} y2={bottom + 3.5} stroke={ink} />
          <text x={x(t)} y={bottom + 13.5} textAnchor="middle" fontSize={8.8} fill={ink}>{fx(t)}</text>
        </g>
      ))}
      {yTicks[r].map((t) => (
        <g key={"y" + t}>
          <line x1={left - 3.5} x2={left} y1={y(t)} y2={y(t)} stroke={ink} />
          {c === 0 && <text x={left - 6} y={y(t)} dy="0.34em" textAnchor="end" fontSize={8.8} fill={ink}>{fy(t)}</text>}
        </g>
      ))}
    </g>
  );
}

function LegendMark({ cx, cy, color }) {
  return (
    <g>
      <line x1={cx - 6.5} x2={cx + 6.5} y1={cy} y2={cy} stroke={color} strokeWidth={1.5} />
      <line x1={cx} x2={cx} y1={cy - 4} y2={cy + 4} stroke={color} strokeWidth={1.5} />
      <circle cx={cx} cy={cy} r={2.8} fill={color} />
    </g>
  );
}

export default function App() {
  const cells = [];
  for (let r = 0; r < 6; r++) for (let c = 0; c < 4; c++) cells.push(<Panel key={r + "-" + c} r={r} c={c} />);
  const legendRowY = [845, 857.5, 870];
  return (
    <svg width={679} height={876} style={{ position: "absolute", left: 0, top: 0 }}
      fontFamily="'Noto Sans', 'DejaVu Sans', sans-serif">
      <rect width={679} height={876} fill="white" />
      {colTitles.map((lines, c) => (
        <text key={c} x={colLeft[c] + axW / 2} textAnchor="middle" fontSize={lines.length === 1 ? 15.5 : 14.5} fill={ink}>
          {lines.map((l, i) => (
            <tspan key={i} x={colLeft[c] + axW / 2} y={lines.length === 1 ? 33 : 16 + i * 20}>{l}</tspan>
          ))}
        </text>
      ))}
      {cells}
      {rowLabels.map((l, r) => (
        <g key={r}>
          <text x={630} y={rowTop[r] + axH / 2 + 5} fontSize={13.5} fill={ink}>{l}</text>
          <text x={5} y={rowTop[r] + axH / 2 - 3} textAnchor="middle" fontSize={14.5} fill={ink}>s</text>
        </g>
      ))}
      {colXLabels.map((l, c) => (
        <text key={c} x={colLeft[c] + axW / 2} y={830} textAnchor="middle" fontSize={15.5} fill={ink}>{l}</text>
      ))}
      {legendSets.map((names, c) => {
        const mid = colLeft[c] + axW / 2;
        return (
          <g key={c}>
            {names.map((n, i) => {
              const col = Math.floor(i / 3), row = i % 3;
              const mx = mid + (col === 0 ? -46 : 20);
              return (
                <g key={n}>
                  <LegendMark cx={mx} cy={legendRowY[row]} color={palette[i]} />
                  <text x={mx + 14} y={legendRowY[row] + 3.4} fontSize={9.5} fill={ink}>{n}</text>
                </g>
              );
            })}
          </g>
        );
      })}
    </svg>
  );
}
